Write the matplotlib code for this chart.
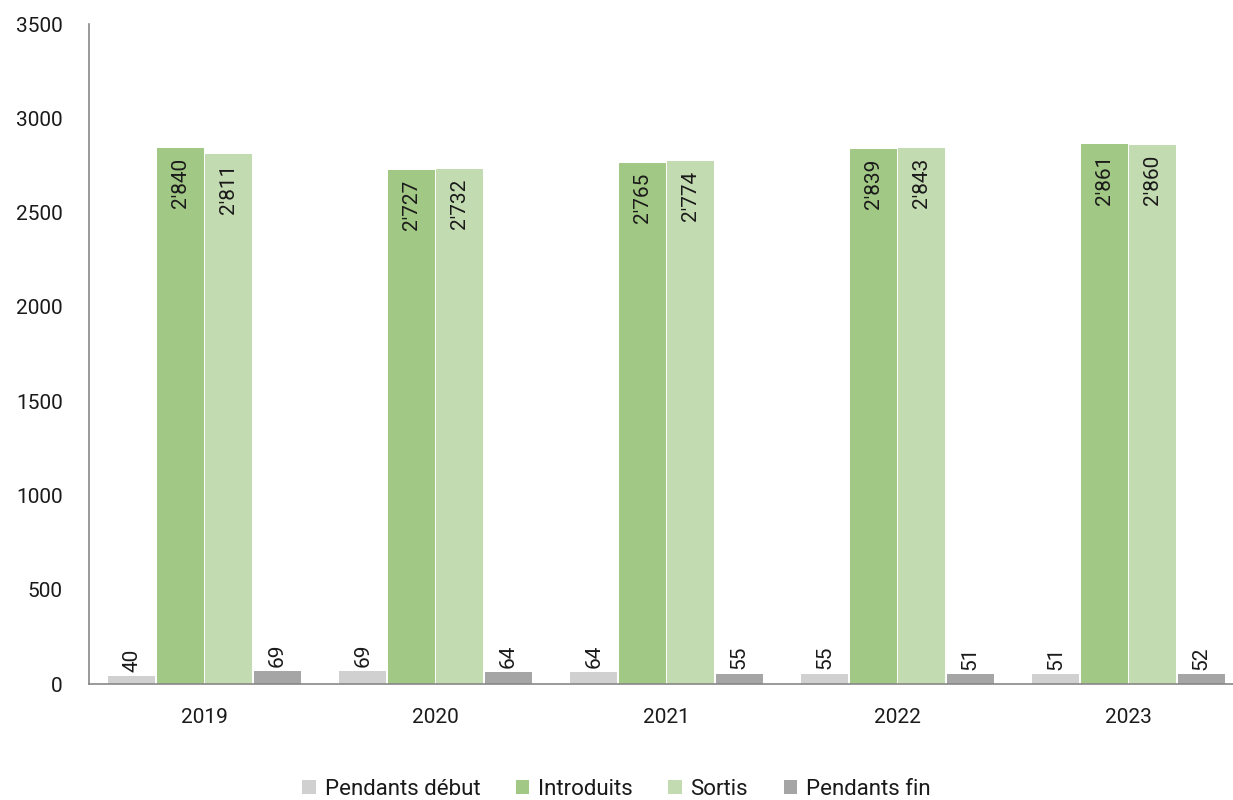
import matplotlib.pyplot as plt
import numpy as np

plt.rcParams['font.family'] = ['Roboto', 'DejaVu Sans']

years = ['2019', '2020', '2021', '2022', '2023']
series = ['Pendants début', 'Introduits', 'Sortis', 'Pendants fin']
pendants_debut = [40, 69, 64, 55, 51]
introduits = [2840, 2727, 2765, 2839, 2861]
sortis = [2811, 2732, 2774, 2843, 2860]
pendants_fin = [69, 64, 55, 51, 52]
colors = ['#d0d0d0', '#a1c884', '#c3dbb0', '#a5a5a5']

data = [pendants_debut, introduits, sortis, pendants_fin]

fig = plt.figure(figsize=(12.33, 8), dpi=100)
# axes extends a bit past the right edge, as in the reference
ax = fig.add_axes([89 / 1233, 116 / 800, 1155 / 1233, 660 / 800])

x = np.arange(len(years))
slot = 0.21
width = 0.203

def fmt(v):
    return f"{v:,}".replace(',', "'")

for i, (vals, c) in enumerate(zip(data, colors)):
    pos = x + (i - 1.5) * slot
    ax.bar(pos, vals, width=width, color=c, label=series[i])
    for p, v in zip(pos, vals):
        if v > 500:
            ax.annotate(fmt(v), (p, v), xytext=(0, -7), textcoords='offset points',
                        rotation=90, ha='center', va='top', fontsize=15, color='#1a1a1a')
        else:
            ax.annotate(fmt(v), (p, v), xytext=(0, 3), textcoords='offset points',
                        rotation=90, ha='center', va='bottom', fontsize=15, color='#1a1a1a')

ax.set_xlim(-0.5, len(years) - 0.5)
ax.set_ylim(0, 3500)
ax.set_yticks(np.arange(0, 3501, 500))
ax.set_xticks(x)
ax.set_xticklabels(years)
ax.tick_params(axis='both', length=0, labelsize=15, colors='#1a1a1a')
ax.tick_params(axis='y', pad=19)
ax.tick_params(axis='x', pad=17)
for s in ['top', 'right']:
    ax.spines[s].set_visible(False)
for s in ['left', 'bottom']:
    ax.spines[s].set_color('#888888')
    ax.spines[s].set_linewidth(1.2)

fig.legend(loc='lower center', bbox_to_anchor=(0.5, -0.025), ncol=4, frameon=False,
           fontsize=16, handlelength=0.6, handleheight=0.6, handletextpad=0.4,
           columnspacing=1.6, labelcolor='#1a1a1a')

fig.savefig('out.png', dpi=100)
